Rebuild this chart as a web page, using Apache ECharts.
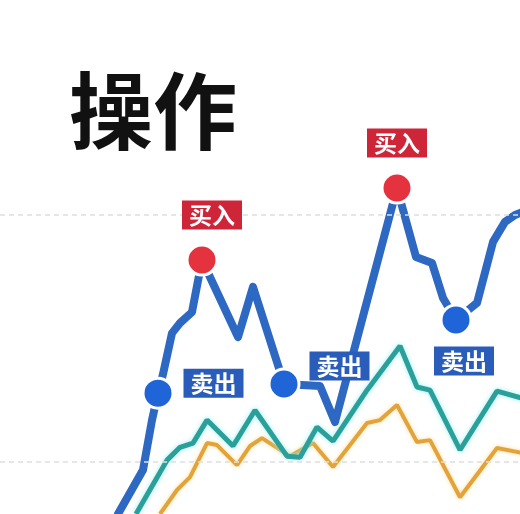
<!DOCTYPE html>
<html>
<head>
<meta charset="utf-8">
<script src="https://cdn.jsdelivr.net/npm/echarts@6/dist/echarts.min.js"></script>
<style>html,body{margin:0;padding:0;background:#fff}#c{width:520px;height:514px}</style>
</head>
<body>
<div id="c"></div>
<script>
// ---- data ----
const title = '操作';
const buyText = '买入';
const sellText = '卖出';
const blueT = [118,143,152,158,163,172,180,192,202,238,253,284,320,335,397,416,432,443,456,477,493,505,515,525];
const blueV = [79,96.8,117,127.9,135.6,152.2,156.3,160.7,181.8,150.6,170.9,131.6,130.8,116.2,210.9,183,180.6,166.4,157.5,164.4,189.1,197.2,200,201.6];
const tealT = [136,167,180,193,207,233,255,287,300,317,333,367,400,417,430,460,497,525];
const tealV = [79,100.8,106,107.7,117,106.5,121,102.4,102,114.2,108.5,129.1,147,130.4,129.1,104.9,128.7,125.5];
const orangeT = [160,177,190,207,217,237,250,262,290,313,333,367,380,397,417,430,460,497,525];
const orangeV = [79,88.7,93.9,107.7,106.9,98.8,106.5,109.7,102.4,107.7,98,115.8,117,123.1,108.1,108.9,85.8,105.7,103.5];
const buyIdx = [8, 14];
const sellIdx = [3, 11, 18];
const gridValues = [100, 200];

// ---- build ----
const zip = (t, v) => t.map((x, i) => [x, v[i]]);
const buyLabelStyle = [
  {position: 'top', distance: 14, offset: [10, 0]},
  {position: 'top', distance: 14, offset: [0, 0]}
];
const sellLabelStyle = [
  {position: 'right', distance: 9, offset: [0, -10]},
  {position: 'right', distance: 9, offset: [0, -18]},
  {position: 'bottom', distance: 10, offset: [8, 0]}
];
const boxLabel = (bg, txt) => ({
  show: true, formatter: txt, color: '#fff', backgroundColor: bg,
  fontSize: 23, lineHeight: 23, fontWeight: 'bold',
  fontFamily: 'Noto Sans CJK SC', padding: [3, 7]
});

const chart = echarts.init(document.getElementById('c'));
chart.setOption({
  animation: false,
  backgroundColor: '#fff',
  title: {
    text: title, left: 64, top: 64,
    textStyle: {fontSize: 84, fontWeight: 'bold', color: '#111', fontFamily: 'Noto Sans CJK SC'}
  },
  grid: {left: 0, right: 0, top: 0, bottom: 0},
  xAxis: {type: 'value', min: 0, max: 520, show: false, splitLine: {show: false}},
  yAxis: {
    type: 'value', min: 79, max: 287, show: false, splitLine: {show: false}
  },
  series: [
    {
      type: 'line', data: zip(orangeT, orangeV), symbol: 'none', z: 2,
      lineStyle: {color: '#e2a43a', width: 4, shadowColor: 'rgba(255,215,140,0.8)', shadowBlur: 4},
      markLine: {
        silent: true, symbol: 'none', label: {show: false},
        lineStyle: {color: '#dedede', type: [5, 4], width: 1.5},
        data: gridValues.map(v => ({yAxis: v}))
      }
    },
    {
      type: 'line', data: zip(tealT, tealV), symbol: 'none', z: 3,
      lineStyle: {color: '#2ba09b', width: 5, shadowColor: 'rgba(150,240,240,0.9)', shadowBlur: 5},
    },
    {
      type: 'line', data: zip(blueT, blueV), symbol: 'none', z: 4,
      lineStyle: {color: '#2d69c2', width: 8, join: 'round', cap: 'round'}
    },
    {
      type: 'scatter', z: 6, symbolSize: 30,
      itemStyle: {color: '#e5323f', borderColor: '#fff', borderWidth: 3, opacity: 1},
      label: boxLabel('#cf2538', buyText),
      data: buyIdx.map((k, i) => ({value: [blueT[k], blueV[k]], label: buyLabelStyle[i]}))
    },
    {
      type: 'scatter', z: 6, symbolSize: 30,
      itemStyle: {color: '#1f65d8', borderColor: '#fff', borderWidth: 3, opacity: 1},
      label: boxLabel('#2a5cba', sellText),
      data: sellIdx.map((k, i) => ({value: [blueT[k], blueV[k]], label: sellLabelStyle[i]}))
    }
  ]
});
</script>
</body>
</html>
